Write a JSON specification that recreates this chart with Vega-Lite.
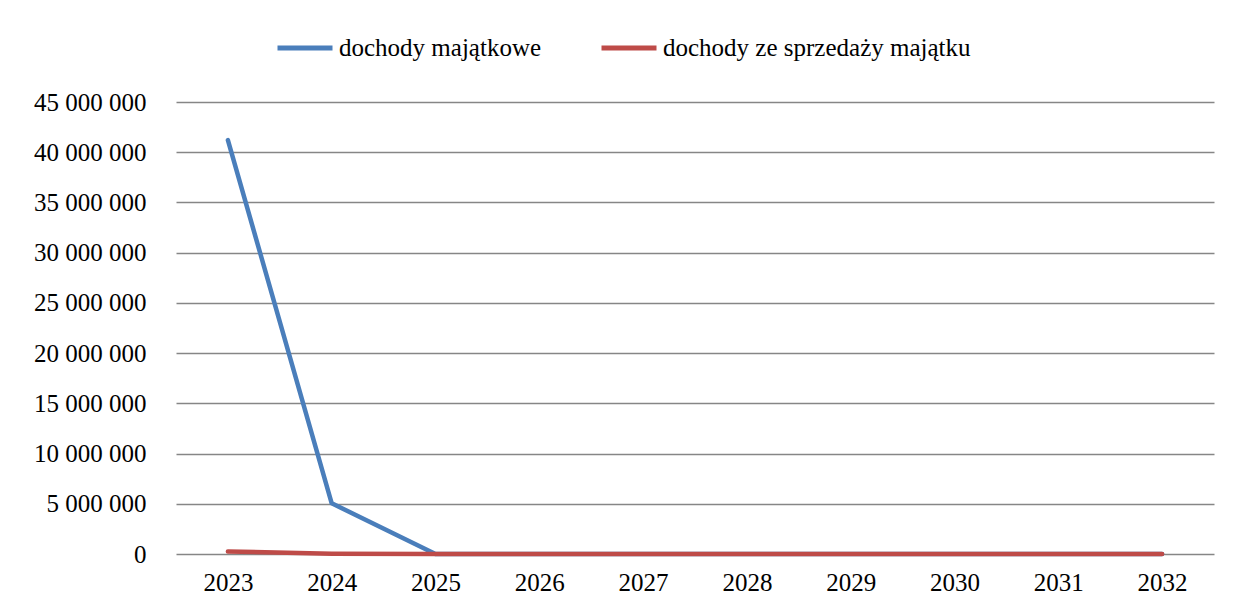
{
  "$schema": "https://vega.github.io/schema/vega-lite/v6.json",
  "autosize": "none",
  "width": 1038,
  "height": 452,
  "padding": {"left": 176, "top": 102, "right": 19, "bottom": 57},
  "background": "white",
  "config": {
    "view": {"stroke": null},
    "font": "'Liberation Serif', 'DejaVu Serif', serif",
    "axis": {"labelFont": "'Liberation Serif', 'DejaVu Serif', serif"},
    "legend": {"labelFont": "'Liberation Serif', 'DejaVu Serif', serif"}
  },
  "data": {
    "values": [
      {"rok": "2023", "seria": "dochody majątkowe", "wartosc": 41200000},
      {"rok": "2024", "seria": "dochody majątkowe", "wartosc": 5050000},
      {"rok": "2025", "seria": "dochody majątkowe", "wartosc": 0},
      {"rok": "2026", "seria": "dochody majątkowe", "wartosc": 0},
      {"rok": "2027", "seria": "dochody majątkowe", "wartosc": 0},
      {"rok": "2028", "seria": "dochody majątkowe", "wartosc": 0},
      {"rok": "2029", "seria": "dochody majątkowe", "wartosc": 0},
      {"rok": "2030", "seria": "dochody majątkowe", "wartosc": 0},
      {"rok": "2031", "seria": "dochody majątkowe", "wartosc": 0},
      {"rok": "2032", "seria": "dochody majątkowe", "wartosc": 0},
      {"rok": "2023", "seria": "dochody ze sprzedaży majątku", "wartosc": 250000},
      {"rok": "2024", "seria": "dochody ze sprzedaży majątku", "wartosc": 20000},
      {"rok": "2025", "seria": "dochody ze sprzedaży majątku", "wartosc": 0},
      {"rok": "2026", "seria": "dochody ze sprzedaży majątku", "wartosc": 0},
      {"rok": "2027", "seria": "dochody ze sprzedaży majątku", "wartosc": 0},
      {"rok": "2028", "seria": "dochody ze sprzedaży majątku", "wartosc": 0},
      {"rok": "2029", "seria": "dochody ze sprzedaży majątku", "wartosc": 0},
      {"rok": "2030", "seria": "dochody ze sprzedaży majątku", "wartosc": 0},
      {"rok": "2031", "seria": "dochody ze sprzedaży majątku", "wartosc": 0},
      {"rok": "2032", "seria": "dochody ze sprzedaży majątku", "wartosc": 0}
    ]
  },
  "mark": {"type": "line", "strokeWidth": 4.5, "strokeCap": "round", "strokeJoin": "round"},
  "encoding": {
    "x": {
      "field": "rok",
      "type": "ordinal",
      "scale": {"type": "point", "padding": 0.5},
      "axis": {
        "title": null,
        "labelAngle": 0,
        "domain": false,
        "ticks": false,
        "grid": false,
        "labelFontSize": 25,
        "labelColor": "black",
        "labelPadding": 16
      }
    },
    "y": {
      "field": "wartosc",
      "type": "quantitative",
      "scale": {"domain": [0, 45000000], "nice": false},
      "axis": {
        "title": null,
        "values": [0, 5000000, 10000000, 15000000, 20000000, 25000000, 30000000, 35000000, 40000000, 45000000],
        "labelExpr": "replace(format(datum.value, ','), /,/g, ' ')",
        "domain": false,
        "ticks": false,
        "grid": true,
        "gridColor": "#868686",
        "gridWidth": 1.5,
        "labelFontSize": 25,
        "labelColor": "black",
        "labelPadding": 30
      }
    },
    "color": {
      "field": "seria",
      "type": "nominal",
      "scale": {
        "domain": ["dochody majątkowe", "dochody ze sprzedaży majątku"],
        "range": ["#4A7EBB", "#BE4B48"]
      },
      "legend": {
        "title": null,
        "orient": "none",
        "direction": "horizontal",
        "legendX": 99,
        "legendY": -84,
        "symbolType": "stroke",
        "symbolSize": 3025,
        "symbolStrokeWidth": 5,
        "labelFontSize": 25,
        "labelColor": "black",
        "labelOffset": 4,
        "columnPadding": 49,
        "labelLimit": 500
      }
    }
  }
}
